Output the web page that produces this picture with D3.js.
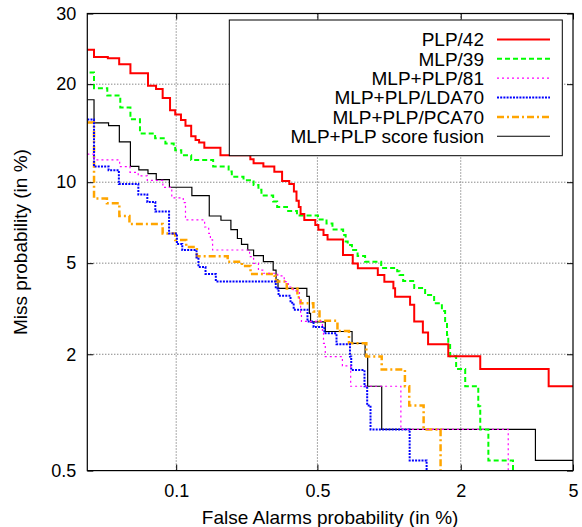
<!DOCTYPE html>
<html>
<head>
<meta charset="utf-8">
<script src="https://cdn.jsdelivr.net/npm/d3@7"></script>
<style>
  html, body { margin: 0; padding: 0; background: #fff; }
  svg { display: block; font-family: "Liberation Sans", Arial, Helvetica, sans-serif; }
</style>
</head>
<body>
<svg id="chart" width="582" height="527"></svg>
<script>
// ---- data (False alarm %, Miss %) ----
const seriesNames = ["PLP/42", "MLP/39", "MLP+PLP/81", "MLP+PLP/LDA70", "MLP+PLP/PCA70", "MLP+PLP score fusion"];

const plp42 = [[0.032,24.6],[0.035,23.6],[0.042,23.4],[0.0487,22.6],[0.0563,21.4],[0.0704,19.8],[0.0779,19.4],[0.0846,18.3],[0.0927,16.9],[0.0988,16.4],[0.106,15.8],[0.112,15.2],[0.12,14.1],[0.1265,13.75],[0.132,13.5],[0.1405,13.0],[0.17,12.3],[0.24,11.93],[0.249,11.58],[0.278,11.29],[0.314,10.84],[0.342,10.1],[0.37,9.86],[0.389,9.28],[0.40,8.61],[0.41,8.19],[0.418,7.72],[0.435,7.34],[0.489,7.03],[0.505,6.74],[0.533,6.45],[0.556,6.2],[0.652,5.39],[0.72,4.99],[0.758,4.77],[0.924,4.48],[0.985,4.2],[1.075,3.94],[1.093,3.63],[1.26,3.35],[1.31,2.83],[1.42,2.52],[1.49,2.23],[1.79,1.96],[2.37,1.70],[4.15,1.4],[5,1.4]];

const mlp39 = [[0.033,21.5],[0.035,19.5],[0.0417,18.6],[0.0494,17.2],[0.0563,15.9],[0.0636,14.4],[0.077,13.9],[0.0875,13.4],[0.097,13.16],[0.0988,12.76],[0.1064,12.3],[0.12,11.87],[0.156,11.3],[0.187,10.86],[0.194,10.43],[0.222,10.16],[0.249,9.79],[0.263,9.41],[0.272,9.0],[0.31,8.56],[0.324,8.19],[0.361,7.92],[0.402,7.62],[0.503,7.37],[0.55,7.12],[0.585,6.76],[0.653,6.45],[0.67,6.09],[0.684,5.9],[0.714,5.64],[0.756,5.34],[0.815,5.07],[0.955,4.78],[1.115,4.64],[1.14,4.48],[1.18,4.23],[1.31,3.95],[1.45,3.69],[1.575,3.4],[1.69,3.15],[1.74,2.8],[1.77,2.46],[1.79,2.21],[1.82,1.96],[1.92,1.70],[2.08,1.4],[2.33,1.11],[2.37,0.84],[2.54,0.57],[3.12,0.45]];

const mlpplp81 = [[0.032,12.4],[0.035,11.87],[0.049,11.29],[0.056,10.8],[0.0622,10.51],[0.0698,10.14],[0.0848,9.6],[0.0947,8.82],[0.109,8.48],[0.112,7.34],[0.141,6.91],[0.148,6.54],[0.151,6.17],[0.155,5.64],[0.238,5.31],[0.249,4.99],[0.263,4.69],[0.278,4.55],[0.326,4.44],[0.35,4.2],[0.366,3.99],[0.386,3.84],[0.413,3.45],[0.418,3.09],[0.422,2.83],[0.527,2.55],[0.533,2.25],[0.543,1.95],[0.648,1.76],[0.705,1.4],[1.155,0.84],[3.0,0.45]];

const lda70 = [[0.032,15.87],[0.035,11.29],[0.0424,10.98],[0.0485,9.86],[0.0623,9.07],[0.0698,8.53],[0.0772,7.88],[0.0916,6.53],[0.1009,5.95],[0.1077,5.64],[0.128,5.27],[0.131,4.82],[0.1425,4.52],[0.161,4.21],[0.319,3.93],[0.329,3.66],[0.375,3.42],[0.388,3.19],[0.45,2.83],[0.48,2.67],[0.538,2.5],[0.61,2.23],[0.70,1.95],[0.709,1.68],[0.81,1.4],[0.832,1.12],[0.86,0.84],[1.255,0.57],[1.47,0.45]];

const pca70 = [[0.032,15.53],[0.035,8.78],[0.0415,8.45],[0.0488,7.59],[0.0556,7.09],[0.0846,6.53],[0.0988,6.17],[0.113,5.79],[0.1285,5.33],[0.185,5.07],[0.218,4.87],[0.2405,4.52],[0.315,4.44],[0.32,4.21],[0.36,3.93],[0.404,3.61],[0.418,3.40],[0.479,3.13],[0.511,2.85],[0.616,2.56],[0.693,2.25],[0.825,1.95],[0.96,1.69],[1.2,1.40],[1.25,1.12],[1.43,0.84],[1.67,0.45]];

const fusion = [[0.032,18.1],[0.035,15.5],[0.0424,15.2],[0.0488,13.55],[0.0563,11.3],[0.0627,11.0],[0.0704,10.7],[0.0781,10.2],[0.092,9.61],[0.121,8.99],[0.149,7.59],[0.171,7.32],[0.192,6.76],[0.207,6.25],[0.217,5.93],[0.233,5.64],[0.249,5.36],[0.278,5.07],[0.31,4.69],[0.32,4.27],[0.327,3.94],[0.447,3.64],[0.459,3.07],[0.465,2.82],[0.543,2.55],[0.715,2.25],[0.815,1.96],[0.836,1.4],[0.96,0.84],[3.74,0.57],[5,0.57]];

const xTicks = [0.1, 0.5, 2, 5];
const yTicks = [0.5, 2, 5, 10, 20, 30];
const xDomain = [0.032, 5];
const yDomain = [0.5, 30];

// ---- normal deviate scale ----
function probit(p) {
  const a = [-3.969683028665376e+01, 2.209460984245205e+02, -2.759285104469687e+02, 1.383577518672690e+02, -3.066479806614716e+01, 2.506628277459239e+00];
  const b = [-5.447609879822406e+01, 1.615858368580409e+02, -1.556989798598866e+02, 6.680131188771972e+01, -1.328068155288572e+01];
  const c = [-7.784894002430293e-03, -3.223964580411365e-01, -2.400758277161838e+00, -2.549732539343734e+00, 4.374664141464968e+00, 2.938163982698783e+00];
  const d = [7.784695709041462e-03, 3.224671290700398e-01, 2.445134137142996e+00, 3.754408661907416e+00];
  const plow = 0.02425, phigh = 1 - plow;
  let q, r;
  if (p < plow) {
    q = Math.sqrt(-2 * Math.log(p));
    return (((((c[0]*q+c[1])*q+c[2])*q+c[3])*q+c[4])*q+c[5]) / ((((d[0]*q+d[1])*q+d[2])*q+d[3])*q+1);
  }
  if (p <= phigh) {
    q = p - 0.5; r = q * q;
    return (((((a[0]*r+a[1])*r+a[2])*r+a[3])*r+a[4])*r+a[5])*q / (((((b[0]*r+b[1])*r+b[2])*r+b[3])*r+b[4])*r+1);
  }
  q = Math.sqrt(-2 * Math.log(1 - p));
  return -(((((c[0]*q+c[1])*q+c[2])*q+c[3])*q+c[4])*q+c[5]) / ((((d[0]*q+d[1])*q+d[2])*q+d[3])*q+1);
}
function scaleProbit(domain, range) {
  const lin = d3.scaleLinear().domain(domain.map(v => probit(v / 100))).range(range);
  const s = v => lin(probit(v / 100));
  s.domain = () => domain.slice();
  s.range = () => range.slice();
  s.copy = () => scaleProbit(domain, range);
  s.ticks = () => domain.slice();
  s.tickFormat = () => (v => String(v));
  return s;
}

// ---- layout ----
const L = 87.3, R = 573, T = 13.5, B = 470.6;
const x = scaleProbit(xDomain, [L, R]);
const y = scaleProbit(yDomain, [B, T]);

const svg = d3.select("#chart");

// grid
const grid = svg.append("g").attr("stroke", "#555").attr("stroke-width", 1).attr("stroke-dasharray", "1,2");
grid.selectAll("line.gx").data(xTicks.filter(v => v > xDomain[0] && v < xDomain[1])).join("line")
  .attr("x1", d => x(d)).attr("x2", d => x(d)).attr("y1", T).attr("y2", B);
grid.selectAll("line.gy").data(yTicks.filter(v => v > yDomain[0] && v < yDomain[1])).join("line")
  .attr("y1", d => y(d)).attr("y2", d => y(d)).attr("x1", L).attr("x2", R);

// curves
svg.append("clipPath").attr("id", "plotclip").append("rect")
  .attr("x", L).attr("y", T).attr("width", R - L).attr("height", B - T);

const styles = [
  { data: plp42,    color: "#ff0000", width: 2,   dash: null },
  { data: mlp39,    color: "#00ff00", width: 2,   dash: "5,3" },
  { data: mlpplp81, color: "#ff00ff", width: 1.2, dash: "2,3" },
  { data: lda70,    color: "#0000ff", width: 2,   dash: "2,1.2" },
  { data: pca70,    color: "#ffa500", width: 2.5, dash: "7,3,2,3" },
  { data: fusion,   color: "#000000", width: 1.2, dash: null }
];

const line = d3.line().x(d => x(d[0])).y(d => y(d[1])).curve(d3.curveStepAfter);
const curves = svg.append("g").attr("clip-path", "url(#plotclip)");
[5, 4, 3, 2, 1, 0].forEach(i => {
  const s = styles[i];
  curves.append("path").attr("d", line(s.data)).attr("fill", "none")
    .attr("stroke", s.color).attr("stroke-width", s.width)
    .attr("stroke-dasharray", s.dash);
});

// legend
const lg = svg.append("g");
lg.append("rect").attr("x", 229.3).attr("y", 20).attr("width", 333).attr("height", 135.7)
  .attr("fill", "#fff").attr("stroke", "#000").attr("stroke-width", 1);
seriesNames.forEach((name, i) => {
  const yy = 39.5 + i * 19.35;
  lg.append("text").attr("x", 484).attr("y", yy + 6.8).attr("text-anchor", "end")
    .attr("font-size", 19).text(name);
  lg.append("line").attr("x1", 497).attr("x2", 550).attr("y1", yy).attr("y2", yy)
    .attr("stroke", styles[i].color).attr("stroke-width", styles[i].width)
    .attr("stroke-dasharray", styles[i].dash);
});

// axes
const axB = d3.axisBottom(x).tickValues(xTicks).tickFormat(d => String(d)).tickSizeInner(-6).tickSizeOuter(0).tickPadding(13.5);
const axL = d3.axisLeft(y).tickValues(yTicks).tickFormat(d => String(d)).tickSizeInner(-6).tickSizeOuter(0).tickPadding(11);
const axT = d3.axisTop(x).tickValues(xTicks).tickFormat("").tickSizeInner(-6).tickSizeOuter(0);
const axR = d3.axisRight(y).tickValues(yTicks).tickFormat("").tickSizeInner(-6).tickSizeOuter(0);

function styleAxis(g) {
  g.select(".domain").remove();
  g.selectAll(".tick line").attr("stroke", "#000");
  g.selectAll(".tick text").attr("font-size", 18).attr("fill", "#000")
    .attr("font-family", "'Liberation Sans', Arial, Helvetica, sans-serif");
}
svg.append("g").attr("transform", `translate(0,${B})`).call(axB).call(styleAxis);
svg.append("g").attr("transform", `translate(${L},0)`).call(axL).call(styleAxis);
svg.append("g").attr("transform", `translate(0,${T})`).call(axT).call(styleAxis);
svg.append("g").attr("transform", `translate(${R},0)`).call(axR).call(styleAxis);

// frame
svg.append("rect").attr("x", L).attr("y", T).attr("width", R - L).attr("height", B - T)
  .attr("fill", "none").attr("stroke", "#000").attr("stroke-width", 1.2);

// axis titles
svg.append("text").attr("x", (L + R) / 2).attr("y", 524).attr("text-anchor", "middle")
  .attr("font-size", 19).text("False Alarms probability (in %)");
svg.append("text").attr("transform", `translate(27,${(T + B) / 2}) rotate(-90)`)
  .attr("text-anchor", "middle").attr("font-size", 19).text("Miss probability (in %)");
</script>
</body>
</html>
